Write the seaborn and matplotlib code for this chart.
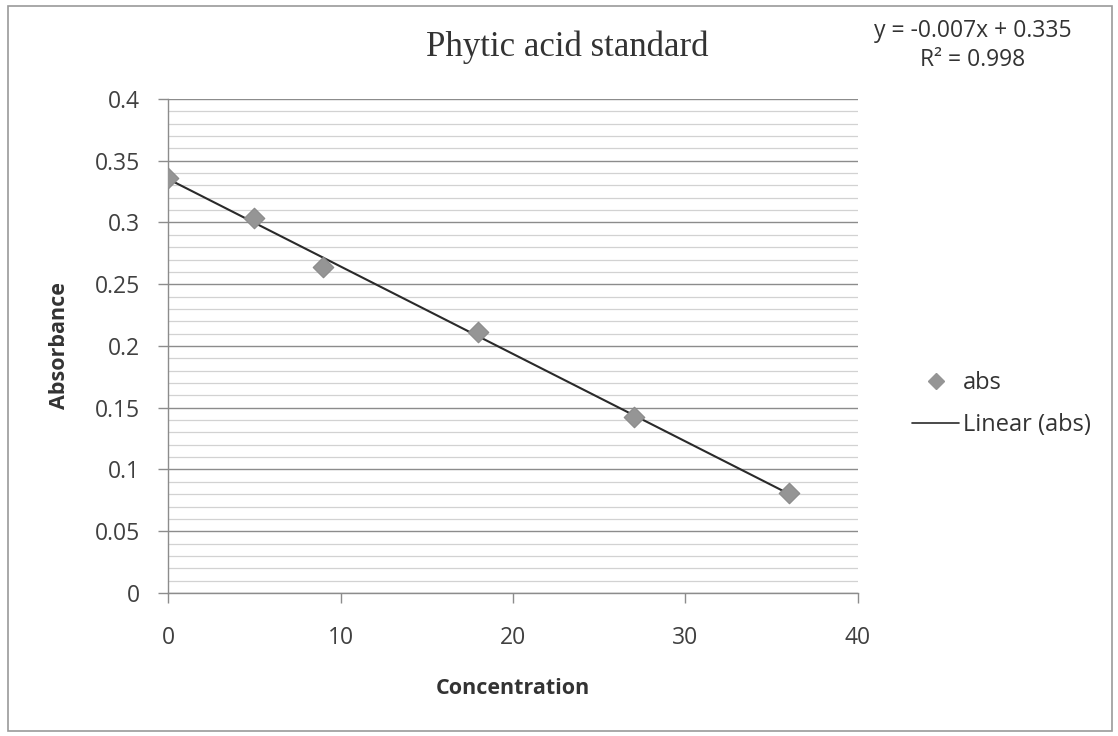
import numpy as np
import pandas as pd
import matplotlib
matplotlib.use("Agg")
import matplotlib.pyplot as plt
from matplotlib.lines import Line2D
from matplotlib.patches import Rectangle
from matplotlib.ticker import MultipleLocator
import seaborn as sns

# Data
concentration = [0, 5, 9, 18, 27, 36]
absorbance = [0.336, 0.304, 0.264, 0.211, 0.1425, 0.081]
x_ticks = [0, 10, 20, 30, 40]
y_ticks = [0, 0.05, 0.1, 0.15, 0.2, 0.25, 0.3, 0.35, 0.4]
y_tick_labels = ["0", "0.05", "0.1", "0.15", "0.2", "0.25", "0.3", "0.35", "0.4"]
title = "Phytic acid standard"
equation = "y = -0.007x + 0.335"
r2_text = "R² = 0.998"

df = pd.DataFrame({"Concentration": concentration, "Absorbance": absorbance})

sns.set_theme(style="white")
plt.rcParams["font.family"] = ["Open Sans", "DejaVu Sans"]

fig = plt.figure(figsize=(11.18, 7.36), dpi=100)
ax = fig.add_axes([0.1503, 0.1943, 0.7674 - 0.1503, 0.8655 - 0.1943])

marker_color = "#959595"
line_color = "#2a2a2a"

sns.regplot(data=df, x="Concentration", y="Absorbance", scatter=False, ci=None,
            truncate=True, ax=ax, line_kws=dict(color=line_color, lw=1.5, zorder=3))
sns.scatterplot(data=df, x="Concentration", y="Absorbance", ax=ax, marker="D",
                s=110, color=marker_color, edgecolor="#8a8a8a", linewidth=0.8, zorder=4)

ax.set_xlim(0, 40)
ax.set_ylim(0, 0.4)
ax.set_xticks(x_ticks)
ax.set_xticklabels([str(t) for t in x_ticks])
ax.set_yticks(y_ticks)
ax.set_yticklabels(y_tick_labels)
ax.yaxis.set_minor_locator(MultipleLocator(0.01))
ax.grid(False)
ax.grid(axis="y", which="major", color="#8c8c8c", lw=1.0, zorder=0)
ax.grid(axis="y", which="minor", color="#d2d2d2", lw=0.9, zorder=0)
ax.set_axisbelow(True)

for side in ["top", "right"]:
    ax.spines[side].set_visible(False)
for side in ["left", "bottom"]:
    ax.spines[side].set_color("#8c8c8c")
    ax.spines[side].set_linewidth(1.0)

ax.tick_params(axis="both", which="major", direction="out", length=7, width=1.0,
               color="#8c8c8c", labelsize=16.5, labelcolor="#404040",
               left=True, bottom=True)
ax.tick_params(axis="y", which="major", pad=13)
ax.tick_params(axis="x", which="major", pad=17)
ax.tick_params(axis="y", which="minor", length=0)

ax.set_xlabel("Concentration", fontsize=15.5, fontweight="bold", color="#333333", labelpad=20)
ax.set_ylabel("Absorbance", fontsize=15.5, fontweight="bold", color="#333333", labelpad=18)

fig.text(0.507, 0.936, title, ha="center", va="center", fontsize=25,
         family=["Liberation Serif", "DejaVu Serif"], color="#333333")
fig.text(0.870, 0.958, equation, ha="center", va="center", fontsize=16.5, color="#333333")
fig.text(0.870, 0.919, r2_text, ha="center", va="center", fontsize=16.5, color="#333333")

handles = [
    Line2D([], [], marker="D", linestyle="none", color=marker_color, markersize=8),
    Line2D([], [], color=line_color, lw=1.2),
]
fig.legend(handles, ["abs", "Linear (abs)"], loc="center left",
           bbox_to_anchor=(0.8157, 0.4510), frameon=False, fontsize=17,
           handlelength=2.0, handletextpad=0.15, labelspacing=0.75,
           borderpad=0, borderaxespad=0, labelcolor="#333333")

fig.patches.append(Rectangle((0.007, 0.007), 0.988, 0.985, transform=fig.transFigure,
                             fill=False, edgecolor="#9a9a9a", lw=1.2))

fig.savefig("out.png", dpi=100)
